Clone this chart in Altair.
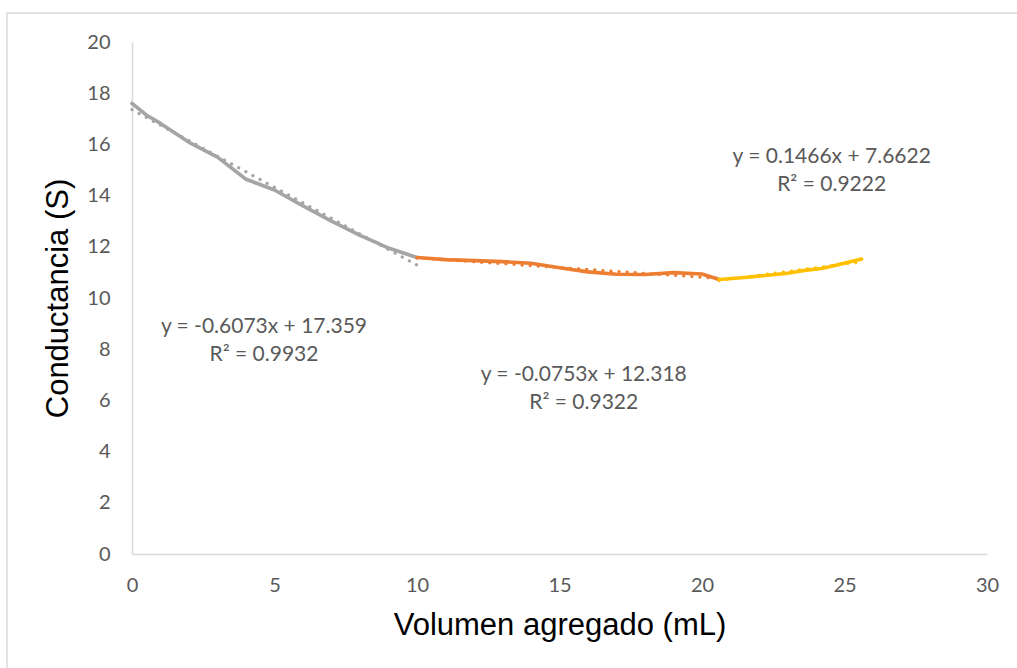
import altair as alt
import pandas as pd

# Conductance readings for each titration stage
vol_a = [0, 0.5, 1, 2, 3, 4, 5, 6, 7, 8, 8.5, 9, 10]
cond_a = [17.6, 17.15, 16.82, 16.08, 15.5, 14.64, 14.22, 13.6, 13.0, 12.45, 12.2, 11.95, 11.58]

vol_b = [10, 11, 12, 13, 14, 15, 16, 17, 18, 19, 20, 20.6]
cond_b = [11.58, 11.5, 11.46, 11.42, 11.36, 11.18, 11.02, 10.93, 10.92, 10.99, 10.94, 10.72]

vol_c = [20.6, 21.5, 22.4, 23.0, 23.6, 24.2, 24.7, 25.6]
cond_c = [10.72, 10.8, 10.9, 10.97, 11.08, 11.15, 11.28, 11.52]

stages = ["A", "B", "C"]
colors = ["#A5A5A5", "#ED7D31", "#FFC000"]

# Linear trendlines (slope, intercept, R²) for each stage
slopes = [-0.6073, -0.0753, 0.1466]
intercepts = [17.359, 12.318, 7.6622]
r2 = [0.9932, 0.9322, 0.9222]

# Label anchor points (data coordinates)
label_x = [4.63, 15.85, 24.55]
label_y = [8.85, 7.0, 15.5]

series = [(vol_a, cond_a), (vol_b, cond_b), (vol_c, cond_c)]
rows, trend_rows, label_rows = [], [], []
for i, (xs, ys) in enumerate(series):
    for k, (x, y) in enumerate(zip(xs, ys)):
        rows.append({"stage": stages[i], "order": k, "vol": x, "cond": y})
    for k, x in enumerate([xs[0], xs[-1]]):
        trend_rows.append({"stage": stages[i], "order": k, "vol": x,
                           "cond": slopes[i] * x + intercepts[i]})
    m = slopes[i]
    sign = "-" if intercepts[i] < 0 else "+"
    label_rows.append({"stage": stages[i], "vol": label_x[i], "cond": label_y[i],
                       "txt": [f"y = {m:.4f}x {sign} {abs(intercepts[i]):g}",
                               f"R² = {r2[i]:.4f}"]})

data = pd.DataFrame(rows)
trend = pd.DataFrame(trend_rows)
labels = pd.DataFrame(label_rows)

W, H = 855, 512
LEFT, TOP = 132, 42

xs = alt.Scale(domain=[0, 30], nice=False)
ys = alt.Scale(domain=[0, 20], nice=False)
col = alt.Color("stage:N", scale=alt.Scale(domain=stages, range=colors), legend=None)

x_enc = alt.X("vol:Q", scale=xs,
              axis=alt.Axis(title="Volumen agregado (mL)", values=[0, 5, 10, 15, 20, 25, 30],
                            grid=False, ticks=False, domainColor="#D9D9D9", domainWidth=1.5,
                            labelFont="Lato", labelFontSize=20, labelColor="#595959",
                            labelFlush=False, labelPadding=21,
                            titleFont="Liberation Sans", titleFontSize=31,
                            titleFontWeight="normal", titleColor="#000000", titlePadding=15))
y_enc = alt.Y("cond:Q", scale=ys,
              axis=alt.Axis(title="Conductancia (S)", values=list(range(0, 21, 2)),
                            grid=False, ticks=False, domainColor="#D9D9D9", domainWidth=1.5,
                            labelFont="Lato", labelFontSize=20, labelColor="#595959",
                            labelFlush=False, labelPadding=22,
                            titleFont="Liberation Sans", titleFontSize=31,
                            titleFontWeight="normal", titleColor="#000000", titlePadding=12))

lines = alt.Chart(data).mark_line(strokeWidth=3.6, strokeJoin="round", strokeCap="round").encode(
    x=x_enc, y=y_enc, color=col, order="order:Q", detail="stage:N")

trends = alt.Chart(trend).mark_line(strokeWidth=3.2, strokeDash=[0.1, 8], strokeCap="round").encode(
    x=alt.X("vol:Q", scale=xs), y=alt.Y("cond:Q", scale=ys), color=col,
    order="order:Q", detail="stage:N")

texts = alt.Chart(labels).mark_text(font="Lato", fontSize=21, color="#595959",
                                    align="center", baseline="middle", lineHeight=28).encode(
    x=alt.X("vol:Q", scale=xs), y=alt.Y("cond:Q", scale=ys), text="txt")

# Light frame around the whole figure
frame_top = alt.Chart(pd.DataFrame({"k": [0]})).mark_rule(color="#D9D9D9", strokeWidth=1.5).encode(
    x=alt.value(7 - LEFT), x2=alt.value(1017 - LEFT), y=alt.value(13 - TOP))
frame_left = alt.Chart(pd.DataFrame({"k": [0]})).mark_rule(color="#D9D9D9", strokeWidth=1.5).encode(
    x=alt.value(7 - LEFT), y=alt.value(13 - TOP), y2=alt.value(668 - TOP))

chart = alt.layer(frame_top, frame_left, trends, lines, texts).properties(
    width=W, height=H,
    padding={"left": LEFT, "top": TOP, "right": 1017 - LEFT - W, "bottom": 668 - TOP - H},
    autosize=alt.AutoSizeParams(type="none"),
    background="white",
).configure_view(stroke=None)

chart.save("out.html", embed_options={"renderer": "svg", "actions": False})
